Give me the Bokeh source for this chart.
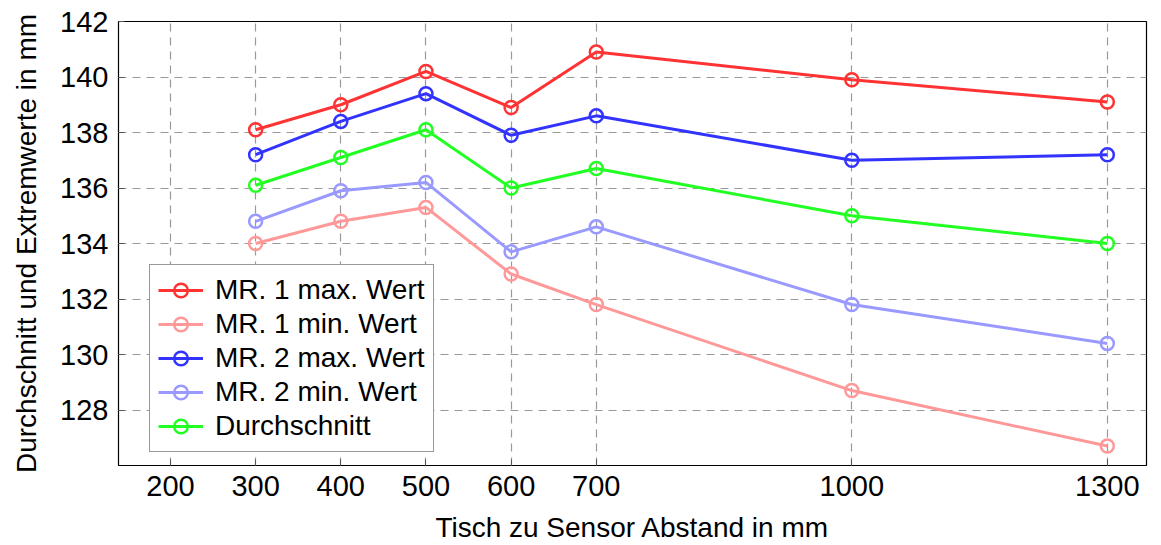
from bokeh.plotting import figure
from bokeh.models import FixedTicker, Range1d, Legend, LegendItem
from bokeh.embed import file_html
from bokeh.resources import INLINE

x_vals = [300, 400, 500, 600, 700, 1000, 1300]
mr1_max = [138.1, 139.0, 140.2, 138.9, 140.9, 139.9, 139.1]
mr1_min = [134.0, 134.8, 135.3, 132.9, 131.8, 128.7, 126.7]
mr2_max = [137.2, 138.4, 139.4, 137.9, 138.6, 137.0, 137.2]
mr2_min = [134.8, 135.9, 136.2, 133.7, 134.6, 131.8, 130.4]
avg = [136.1, 137.1, 138.1, 136.0, 136.7, 135.0, 134.0]

series_names = ["MR. 1 max. Wert", "MR. 1 min. Wert", "MR. 2 max. Wert", "MR. 2 min. Wert", "Durchschnitt"]
series_vals = [mr1_max, mr1_min, mr2_max, mr2_min, avg]
colors = ["#FF3333", "#FF9999", "#3333FF", "#9999FF", "#22FF22"]

x_ticks = [200, 300, 400, 500, 600, 700, 1000, 1300]
y_ticks = [128, 130, 132, 134, 136, 138, 140, 142]

FONT = "Liberation Sans"

p = figure(width=1161, height=545, output_backend="svg", toolbar_location=None,
           x_range=Range1d(139, 1346), y_range=Range1d(126.0, 142.0),
           min_border_left=118, min_border_right=15, min_border_top=21, min_border_bottom=80)
p.background_fill_color = "white"
p.border_fill_color = "white"
p.outline_line_color = "black"
p.outline_line_width = 1.2

items = []
for name, vals, c in zip(series_names, series_vals, colors):
    r1 = p.line(x_vals, vals, line_color=c, line_width=3)
    r2 = p.scatter(x_vals, vals, marker="circle", size=13, fill_color=None, line_color=c, line_width=2.5)
    items.append(LegendItem(label=name, renderers=[r1, r2]))

for ax in (p.xaxis, p.yaxis):
    ax.axis_line_color = None
    ax.major_tick_in = 6
    ax.major_tick_out = 0
    ax.minor_tick_line_color = None
    ax.major_label_text_font = FONT
    ax.major_label_text_font_size = "29px"
    ax.major_label_text_color = "black"
    ax.axis_label_text_font = FONT
    ax.axis_label_text_font_size = "28px"
    ax.axis_label_text_font_style = "normal"
    ax.axis_label_text_color = "black"
    ax.major_tick_line_color = "#555555"

p.xaxis.ticker = FixedTicker(ticks=x_ticks)
p.yaxis.ticker = FixedTicker(ticks=y_ticks)
p.xaxis.axis_label = "Tisch zu Sensor Abstand in mm"
p.yaxis.axis_label = "Durchschnitt und Extremwerte in mm"
p.xaxis.major_label_standoff = 10
p.yaxis.major_label_standoff = 10
p.xaxis.axis_label_standoff = 13
p.yaxis.axis_label_standoff = 15

for g in (p.xgrid, p.ygrid):
    g.grid_line_color = "#999999"
    g.grid_line_width = 1.2
    g.grid_line_dash = "8 6"

legend = Legend(items=items, location=(31, 13))
legend.label_text_font = FONT
legend.label_text_font_size = "28px"
legend.label_text_color = "black"
legend.border_line_color = "#333333"
legend.border_line_width = 1.5
legend.background_fill_alpha = 1.0
legend.spacing = 0
legend.label_height = 34
legend.glyph_height = 34
legend.glyph_width = 45
legend.padding = 8
legend.margin = 0
legend.label_standoff = 12
p.add_layout(legend, "center")

open("out.html", "w").write(file_html(p, INLINE))
